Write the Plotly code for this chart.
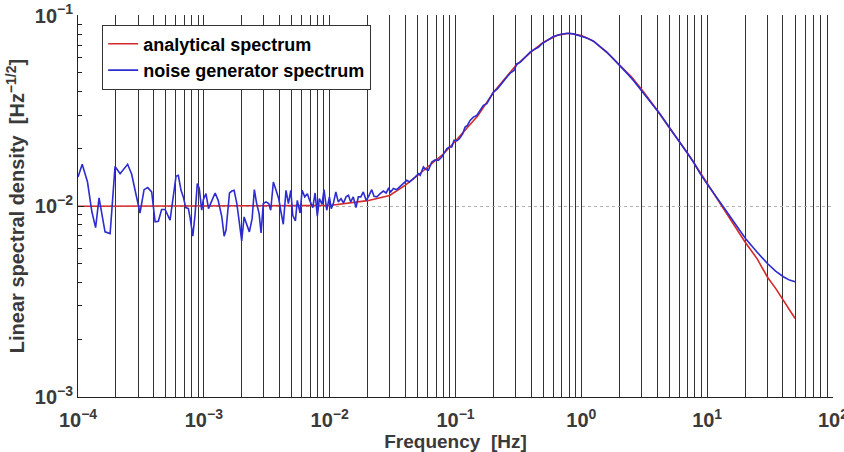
import plotly.graph_objects as go

# Analytical spectrum
f_analytic = [1e-4, 1e-3, 3e-3, 6e-3, 1e-2, 1.5e-2, 2e-2, 3e-2, 4e-2, 5e-2, 6e-2, 8e-2,
              0.1, 0.15, 0.2, 0.3, 0.4, 0.5, 0.65, 0.8, 1.0, 1.25, 1.6, 2.0, 2.5, 3.0,
              4.0, 5.0, 7.0, 10.0, 13.5, 20.0, 25.0, 30.0, 35.0, 40.0, 45.0, 50.0]
v_analytic = [0.0100, 0.0100, 0.01005, 0.01008, 0.0101, 0.0104, 0.0107, 0.0114, 0.0129, 0.0145,
              0.0160, 0.0188, 0.0220, 0.0297, 0.0395, 0.0545, 0.0645, 0.0725, 0.0790, 0.0808,
              0.0787, 0.0735, 0.0640, 0.0550, 0.0478, 0.0412, 0.0320, 0.0258, 0.0190, 0.0132,
              0.0097, 0.0065, 0.0053, 0.00427, 0.00371, 0.00322, 0.00288, 0.00258]

# Noise generator spectrum
f_noise = [1.00e-4, 1.08e-4, 1.19e-4, 1.29e-4, 1.38e-4, 1.47e-4, 1.64e-4, 1.80e-4, 1.97e-4,
           2.16e-4, 2.48e-4, 2.67e-4, 3.11e-4, 3.35e-4, 3.58e-4, 3.85e-4, 4.10e-4, 4.35e-4,
           4.62e-4, 4.92e-4, 5.39e-4, 6.01e-4, 6.27e-4, 6.59e-4, 6.87e-4, 7.18e-4, 7.53e-4,
           7.76e-4, 8.17e-4, 8.51e-4, 8.87e-4, 9.20e-4, 9.62e-4, 9.91e-4, 1.04e-3, 1.09e-3,
           1.16e-3, 1.23e-3, 1.30e-3, 1.39e-3, 1.45e-3, 1.50e-3, 1.60e-3, 1.67e-3, 1.74e-3,
           1.83e-3, 1.92e-3, 2.00e-3, 2.09e-3, 2.19e-3, 2.30e-3, 2.42e-3, 2.52e-3, 2.63e-3,
           2.75e-3, 2.85e-3, 2.97e-3, 3.12e-3, 3.28e-3, 3.40e-3, 3.57e-3, 3.75e-3, 3.94e-3,
           4.08e-3, 4.28e-3, 4.50e-3, 4.70e-3, 4.91e-3, 5.09e-3, 5.34e-3, 5.53e-3, 5.82e-3,
           6.04e-3, 6.34e-3, 6.65e-3, 6.90e-3, 7.34e-3, 7.66e-3, 7.98e-3, 8.28e-3, 8.70e-3,
           9.02e-3, 9.48e-3, 9.95e-3, 1.03e-2, 1.07e-2, 1.12e-2, 1.17e-2, 1.23e-2, 1.29e-2,
           1.35e-2, 1.41e-2, 1.47e-2, 1.54e-2, 1.62e-2, 1.69e-2, 1.77e-2, 1.85e-2, 1.95e-2,
           2.03e-2, 2.16e-2, 2.25e-2, 2.37e-2, 2.52e-2, 2.67e-2, 2.81e-2, 2.93e-2, 3.06e-2,
           3.21e-2, 3.41e-2, 3.63e-2, 3.86e-2, 4.10e-2, 4.31e-2, 4.50e-2, 4.78e-2, 5.08e-2,
           5.24e-2, 5.56e-2, 5.84e-2, 6.09e-2, 6.48e-2, 6.89e-2, 7.31e-2, 7.78e-2, 8.26e-2,
           8.52e-2, 8.94e-2, 9.35e-2, 9.75e-2, 0.1023, 0.1074, 0.1143, 0.1192, 0.1244, 0.1306,
           0.1388, 0.1476, 0.157, 0.1667, 0.1774, 0.1884, 0.2, 0.2153, 0.2263, 0.2404, 0.2558,
           0.2718, 0.2922, 0.307, 0.3264, 0.3467, 0.369, 0.3919, 0.4163, 0.456, 0.4853, 0.5318,
           0.6003, 0.6784, 0.767, 0.8654, 0.978, 1.106, 1.248, 1.411, 1.595, 1.799, 2.034,
           2.300, 2.595, 2.934, 3.317, 3.742, 4.231, 4.783, 5.396, 6.101, 6.897, 7.782, 8.798,
           9.945, 13.48, 20.16, 24.8, 30.13, 35.0, 40.36, 45.1, 50.1]
v_noise = [0.01423, 0.0166, 0.0134, 0.00933, 0.00773, 0.01107, 0.00734, 0.00719, 0.01618,
           0.01483, 0.0166, 0.01472, 0.00922, 0.01222, 0.01253, 0.01189, 0.00828, 0.00834,
           0.00962, 0.00962, 0.00846, 0.01435, 0.01452, 0.01213, 0.0112, 0.00984, 0.00972,
           0.00879, 0.00697, 0.00897, 0.01315, 0.01239, 0.00953, 0.01084, 0.01164, 0.00972,
           0.01074, 0.01174, 0.01074, 0.00879, 0.00697, 0.00748, 0.01174, 0.01202, 0.01213,
           0.01033, 0.00811, 0.00658, 0.00879, 0.00811, 0.00734, 0.00861, 0.01222, 0.01033,
           0.00916, 0.00725, 0.01033, 0.01054, 0.01033, 0.00953, 0.0134, 0.01213, 0.01096,
           0.00953, 0.00805, 0.01213, 0.01033, 0.01213, 0.00897, 0.00837, 0.01074, 0.00922,
           0.01213, 0.0112, 0.01164, 0.01084, 0.00984, 0.01174, 0.00887, 0.01096, 0.01023,
           0.01222, 0.00953, 0.0112, 0.00972, 0.01033, 0.01189, 0.01054, 0.01096, 0.0104,
           0.0112, 0.01142, 0.01054, 0.0112, 0.00984, 0.0112, 0.0112, 0.01189, 0.01074,
           0.0112, 0.01222, 0.01127, 0.0112, 0.01164, 0.01202, 0.01174, 0.01239, 0.01189,
           0.01239, 0.01222, 0.01274, 0.01315, 0.01368, 0.0134, 0.01368, 0.01423, 0.01483,
           0.01452, 0.01607, 0.01556, 0.01543, 0.01706, 0.01754, 0.01741, 0.01811, 0.01923,
           0.02004, 0.02046, 0.02046, 0.02218, 0.022, 0.0226, 0.02404, 0.02602, 0.02655, 0.02818,
           0.02935, 0.0299, 0.03182, 0.03381, 0.0345, 0.03737, 0.0397, 0.0413, 0.04303, 0.04477,
           0.04753, 0.04989, 0.05153, 0.05583, 0.0569, 0.05929, 0.06175, 0.06428, 0.0661,
           0.06823, 0.07107, 0.07396, 0.0776, 0.07953, 0.08084, 0.08017, 0.07852, 0.07636,
           0.07336, 0.06887, 0.06428, 0.05929, 0.0547, 0.04989, 0.04571, 0.0413, 0.03737,
           0.03342, 0.03034, 0.0271, 0.02421, 0.02173, 0.01923, 0.01706, 0.01483, 0.01315,
           0.00992, 0.00678, 0.00577, 0.00501, 0.00457, 0.00427, 0.0041, 0.00402]

legend_names = ["analytical spectrum", "noise generator spectrum"]
x_title = "Frequency  [Hz]"
y_title = "Linear spectral density  [Hz<sup>\u22121/2</sup>]"

x_decades = [-4, -3, -2, -1, 0, 1, 2]
y_decades = [-3, -2, -1]


def power_label(d):
    return "10<sup>%s</sup>" % (str(d).replace("-", "\u2212"))


# x tick positions: decades plus 2..9 multiples (grid lines), labels only on decades
x_tickvals, x_ticktext = [], []
for d in x_decades:
    x_tickvals.append(10.0 ** d)
    x_ticktext.append(power_label(d))
    if d < 2:
        for m in range(2, 10):
            x_tickvals.append(m * 10.0 ** d)
            x_ticktext.append("")
y_tickvals = [10.0 ** d for d in y_decades]
y_ticktext = [power_label(d) for d in y_decades]

font_family = "Liberation Sans, Arial, sans-serif"
txt_color = "#3a3a3a"

fig = go.Figure()
fig.add_trace(go.Scatter(x=f_analytic, y=v_analytic, mode="lines", name=legend_names[0],
                         line=dict(color="#d42a2a", width=1.6)))
fig.add_trace(go.Scatter(x=f_noise, y=v_noise, mode="lines", name=legend_names[1],
                         line=dict(color="#2c2cd0", width=1.6)))

fig.update_layout(
    width=844, height=452,
    margin=dict(l=78, r=11, t=15, b=55, autoexpand=False),
    paper_bgcolor="white", plot_bgcolor="white",
    font=dict(family=font_family, color=txt_color, size=18, weight="bold"),
    showlegend=True,
    legend=dict(x=0.032, y=0.975, xanchor="left", yanchor="top",
                bgcolor="white", bordercolor="#333333", borderwidth=1,
                font=dict(size=18, color="black", family=font_family, weight="bold"),
                tracegroupgap=0, itemwidth=30),
)
fig.update_xaxes(
    type="log", range=[-4, 2.0002], automargin=False,
    tickmode="array", tickvals=x_tickvals, ticktext=x_ticktext,
    ticks="", showgrid=True, gridcolor="#333333", gridwidth=1,
    ticklabeloverflow="allow", ticklabelstandoff=5,
    showline=True, linecolor="#222222", linewidth=1, mirror=False,
    tickfont=dict(size=20, color=txt_color, family=font_family, weight="bold"),
    title=dict(text=x_title, font=dict(size=19, color=txt_color, family=font_family, weight="bold"),
               standoff=0),
    zeroline=False,
)
fig.update_yaxes(
    type="log", range=[-3.0002, -0.997], automargin=False,
    tickmode="array", tickvals=y_tickvals, ticktext=y_ticktext,
    ticks="inside", ticklen=6, tickcolor="#222222",
    showgrid=True, gridcolor="#b0b0b0", griddash="dot", gridwidth=1,
    ticklabeloverflow="allow",
    minor=dict(ticks="inside", ticklen=4, tickcolor="#222222", showgrid=False, dtick="D1"),
    showline=True, linecolor="#222222", linewidth=1, mirror=False,
    tickfont=dict(size=20, color=txt_color, family=font_family, weight="bold"),
    title=dict(text=y_title, font=dict(size=20, color=txt_color, family=font_family, weight="bold"),
               standoff=4),
    zeroline=False,
)

fig.write_html("out.html")
